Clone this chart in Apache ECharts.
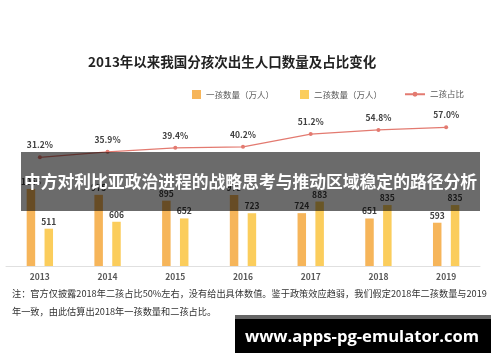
<!DOCTYPE html>
<html><head><meta charset="utf-8">
<script src="https://cdn.jsdelivr.net/npm/echarts@6/dist/echarts.min.js"></script>
<style>html,body{margin:0;padding:0;background:#fff;}#c{width:500px;height:362px;}</style>
</head><body><div id="c"></div>
<script>
const years = ['2013','2014','2015','2016','2017','2018','2019'];
const firstChild = [1056, 975, 895, 973, 724, 651, 593];
const secondChild = [511, 606, 652, 723, 883, 835, 835];
const secondShare = [31.2, 35.9, 39.4, 40.2, 51.2, 54.8, 57.0];
const titleText = '2013年以来我国分孩次出生人口数量及占比变化';
const seriesNames = ['一孩数量（万人）', '二孩数量（万人）', '二孩占比'];
const noteLine1 = '注：官方仅披露2018年二孩占比50%左右，没有给出具体数值。鉴于政策效应趋弱，我们假定2018年二孩数量与2019';
const noteLine2 = '年一致，由此估算出2018年一孩数量和二孩占比。';
const bannerText = '中方对利比亚政治进程的战略思考与推动区域稳定的路径分析';
const watermarkText = 'www.apps-pg-emulator.com';

const FONT = '"Noto Sans CJK SC", "Noto Sans", sans-serif';
const chart = echarts.init(document.getElementById('c'));
chart.setOption({
  animation: false,
  textStyle: { fontFamily: FONT },
  title: {
    text: titleText, left: 83, top: 50,
    textStyle: { fontSize: 13.5, fontWeight: 'bold', color: '#222', fontFamily: FONT }
  },
  legend: [
    { data: [seriesNames[0], seriesNames[1]], left: 187, top: 85, itemWidth: 9, itemHeight: 9, itemGap: 26,
      icon: 'rect', textStyle: { fontSize: 8.5, color: '#595959', fontFamily: FONT } },
    { data: [seriesNames[2]], left: 399, top: 85, itemWidth: 20, itemHeight: 6,
      textStyle: { fontSize: 8.5, color: '#595959', fontFamily: FONT } }
  ],
  grid: { left: 6, right: 20, top: 120, bottom: 96, containLabel: false },
  xAxis: {
    type: 'category', data: years,
    axisLine: { lineStyle: { color: '#e0e0e0' } },
    axisTick: { show: false },
    axisLabel: { fontSize: 8.5, fontWeight: 'bold', color: '#595959', margin: 7, fontFamily: FONT }
  },
  yAxis: [
    { type: 'value', min: 0, max: 2000, show: false, splitLine: { show: false } },
    { type: 'value', min: -62.3, max: 63.3, show: false, splitLine: { show: false } }
  ],
  series: [
    { name: seriesNames[0], type: 'bar', data: firstChild, barWidth: 8.5, barGap: '110%',
      itemStyle: { color: '#F6B55A' },
      label: { show: true, position: 'top', distance: 3, fontSize: 8.5, fontWeight: 'bold', color: '#404040' } },
    { name: seriesNames[1], type: 'bar', data: secondChild, barWidth: 8.5,
      itemStyle: { color: '#FBCD5C' },
      label: { show: true, position: 'top', distance: 3, fontSize: 8.5, fontWeight: 'bold', color: '#404040' } },
    { name: seriesNames[2], type: 'line', yAxisIndex: 1, data: secondShare,
      symbol: 'circle', symbolSize: 4,
      lineStyle: { color: '#E37A70', width: 1.2 }, itemStyle: { color: '#E37A70' },
      label: { show: true, position: 'top', distance: 6, fontSize: 8.5, fontWeight: 'bold', color: '#404040',
        formatter: p => p.value.toFixed(1) + '%' } }
  ],
  graphic: [
    { type: 'text', left: 12, top: 289, z: 50,
      style: { text: noteLine1, fill: '#333', font: '9.2px ' + FONT } },
    { type: 'text', left: 12, top: 307, z: 50,
      style: { text: noteLine2, fill: '#333', font: '9.2px ' + FONT } },
    { type: 'rect', shape: { x: 21, y: 152, width: 459, height: 59 }, z: 100,
      style: { fill: 'rgba(0,0,0,0.58)' } },
    { type: 'text', z: 101, x: 250.5, y: 182,
      style: { text: bannerText, fill: '#fff', align: 'center', verticalAlign: 'middle',
        font: 'bold 16.8px ' + FONT } },
    { type: 'rect', shape: { x: 235, y: 315, width: 256, height: 38 }, z: 100,
      style: { fill: '#000' } },
    { type: 'rect', shape: { x: 235, y: 315, width: 256, height: 4 }, z: 101,
      style: { fill: '#666' } },
    { type: 'text', z: 102, x: 362, y: 337,
      style: { text: watermarkText, fill: '#fff', align: 'center', verticalAlign: 'middle',
        font: 'bold 16.6px "Open Sans", sans-serif' } }
  ]
});
</script>
</body></html>
